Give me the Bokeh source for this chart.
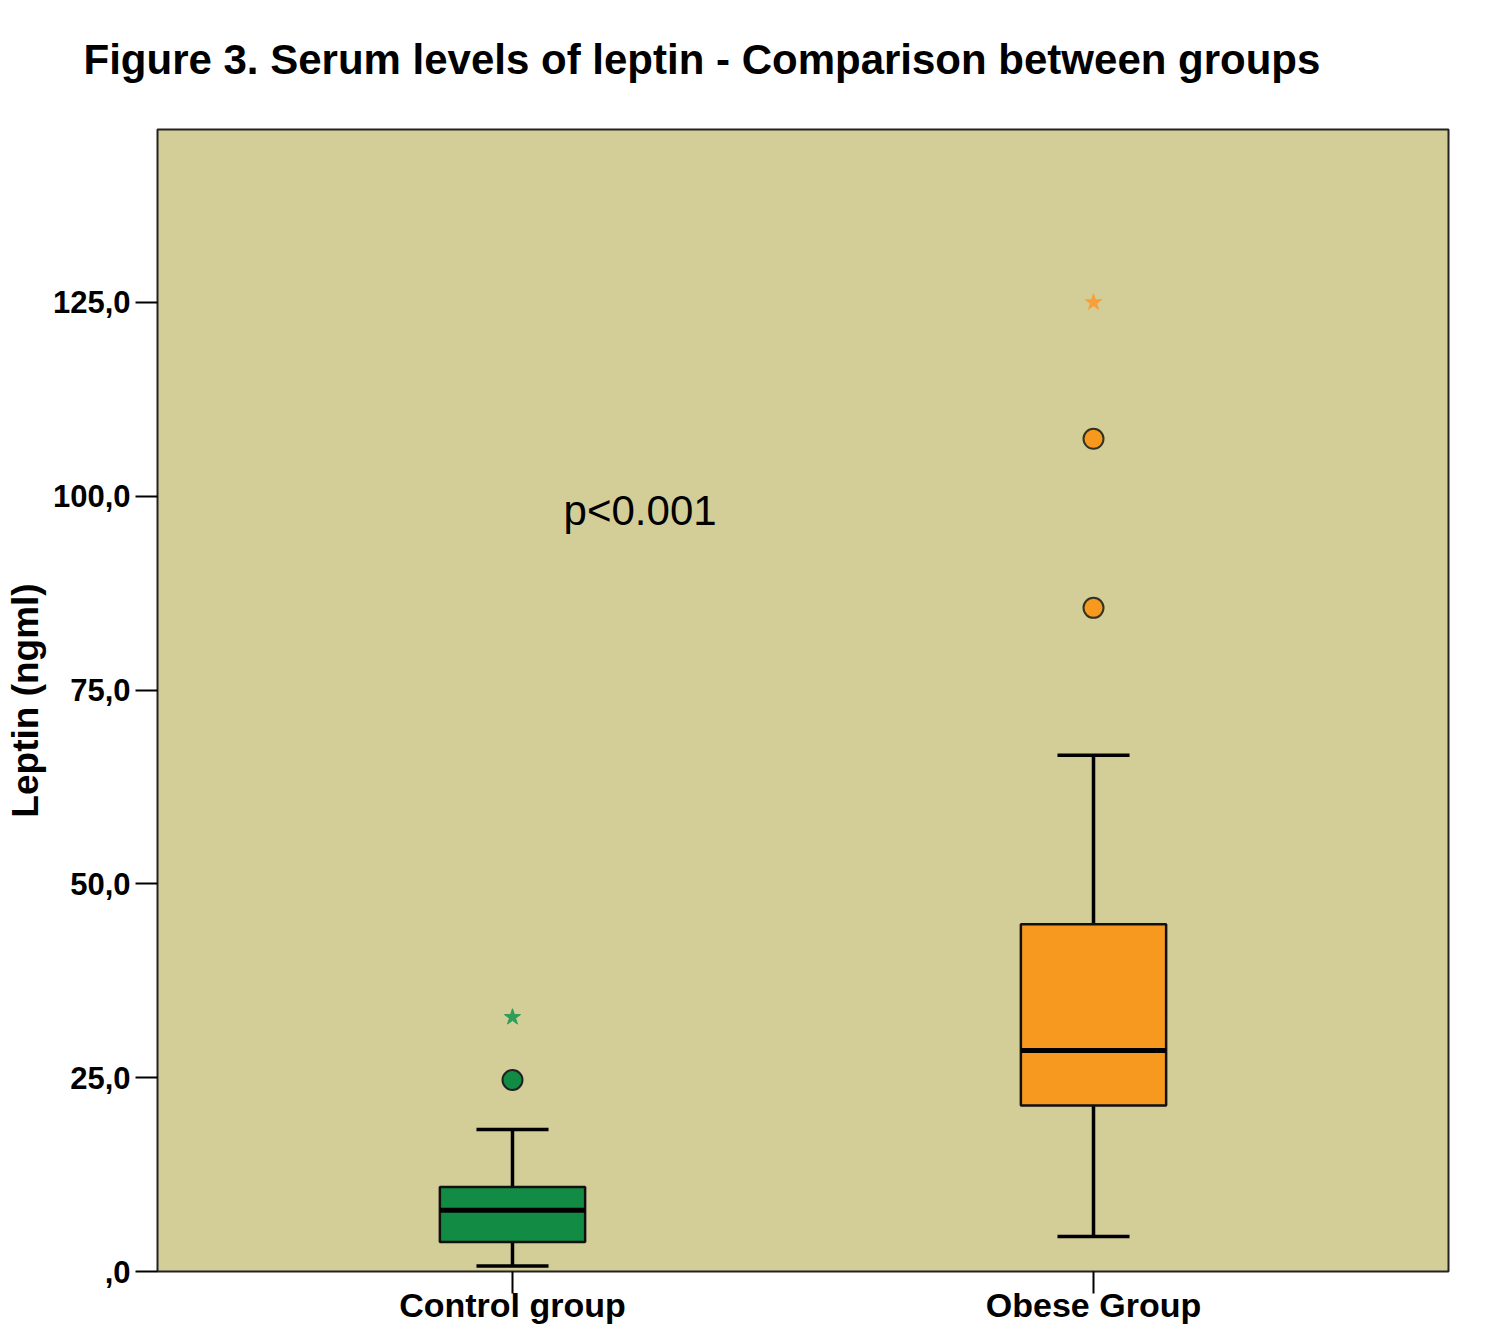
from bokeh.plotting import figure
from bokeh.models import FixedTicker, Range1d, Label, Title
from bokeh.embed import file_html
from bokeh.resources import INLINE

groups = ["Control group", "Obese Group"]
whisk_low = [0.7, 4.5]
q1 = [3.8, 21.4]
median = [7.9, 28.5]
q3 = [10.9, 44.8]
whisk_high = [18.3, 66.6]
outliers_control = [24.7]
outliers_obese = [85.6, 107.4]
extremes_control = [32.8]
extremes_obese = [125.0]
y_ticks = [0, 25, 50, 75, 100, 125]
y_tick_labels = [",0", "25,0", "50,0", "75,0", "100,0", "125,0"]

fill_colors = ["#128C45", "#F7991E"]
xs = list(range(len(groups)))

p = figure(width=1491, height=1326, output_backend="svg", toolbar_location=None,
           x_range=Range1d(-0.611, 1.611), y_range=Range1d(0, 147.3),
           min_border_left=157, min_border_right=43, min_border_top=129, min_border_bottom=55)

p.title.text = "Figure 3. Serum levels of leptin - Comparison between groups"
p.title.text_font = "Liberation Sans"
p.title.text_font_size = "42px"
p.title.text_font_style = "bold"
p.title.text_color = "black"
p.title.align = "left"
p.title.offset = -74
p.title.standoff = 70
p.title.vertical_align = "top"

# blank spacer between title and plot frame
p.add_layout(Title(text=" ", text_font_size="1px", standoff=7), "above")

p.background_fill_color = "#D3CD98"
p.border_fill_color = "white"
p.outline_line_color = "#222222"
p.outline_line_width = 2
p.grid.visible = False

# whiskers
p.segment(x0=xs, y0=whisk_low, x1=xs, y1=q1, line_color="black", line_width=3.5)
p.segment(x0=xs, y0=q3, x1=xs, y1=whisk_high, line_color="black", line_width=3.5)
cap = 0.062
p.segment(x0=[x - cap for x in xs], y0=whisk_low, x1=[x + cap for x in xs], y1=whisk_low, line_color="black", line_width=3.5)
p.segment(x0=[x - cap for x in xs], y0=whisk_high, x1=[x + cap for x in xs], y1=whisk_high, line_color="black", line_width=3.5)

# boxes
p.vbar(x=xs, width=0.25, bottom=q1, top=q3, fill_color=fill_colors, line_color="#111111", line_width=2.5)
hw = 0.125
p.segment(x0=[x - hw for x in xs], y0=median, x1=[x + hw for x in xs], y1=median, line_color="black", line_width=5)

# outliers
p.scatter(x=[0] * len(outliers_control), y=outliers_control, size=20, fill_color=fill_colors[0], line_color="#222222", line_width=2)
p.scatter(x=[1] * len(outliers_obese), y=outliers_obese, size=20, fill_color=fill_colors[1], line_color="#333322", line_width=2)
p.scatter(x=[0] * len(extremes_control), y=extremes_control, marker="star", size=17, fill_color="#2E9E5A", line_color="#2E9E5A", line_width=1)
p.scatter(x=[1] * len(extremes_obese), y=extremes_obese, marker="star", size=17, fill_color="#F7A03A", line_color="#F7A03A", line_width=1)

p.add_layout(Label(x=0.088, y=98.2, text="p<0.001", text_font="Liberation Sans", text_font_size="42px",
                   text_baseline="middle", text_color="black"))

# axes
p.yaxis.ticker = FixedTicker(ticks=y_ticks)
p.yaxis.major_label_overrides = {t: l for t, l in zip(y_ticks, y_tick_labels)}
p.yaxis.minor_tick_line_color = None
p.yaxis.major_tick_in = 0
p.yaxis.major_tick_out = 22
p.yaxis.major_tick_line_width = 2
p.yaxis.major_label_standoff = 5
p.yaxis.major_label_text_font = "Liberation Sans"
p.yaxis.major_label_text_font_size = "31px"
p.yaxis.major_label_text_font_style = "bold"
p.yaxis.major_label_text_color = "black"
p.yaxis.axis_line_color = None
p.yaxis.axis_label = "Leptin (ngml)"
p.yaxis.axis_label_text_font = "Liberation Sans"
p.yaxis.axis_label_text_font_size = "37px"
p.yaxis.axis_label_text_font_style = "bold"
p.yaxis.axis_label_text_color = "black"
p.yaxis.axis_label_standoff = 4

p.xaxis.ticker = FixedTicker(ticks=xs)
p.xaxis.major_label_overrides = {x: g for x, g in zip(xs, groups)}
p.xaxis.minor_tick_line_color = None
p.xaxis.major_tick_in = 0
p.xaxis.major_tick_out = 22
p.xaxis.major_tick_line_width = 2
p.xaxis.major_label_standoff = -8
p.xaxis.major_label_text_font = "Liberation Sans"
p.xaxis.major_label_text_font_size = "34px"
p.xaxis.major_label_text_font_style = "bold"
p.xaxis.major_label_text_color = "black"
p.xaxis.axis_line_color = None

open("out.html", "w").write(file_html(p, INLINE))
